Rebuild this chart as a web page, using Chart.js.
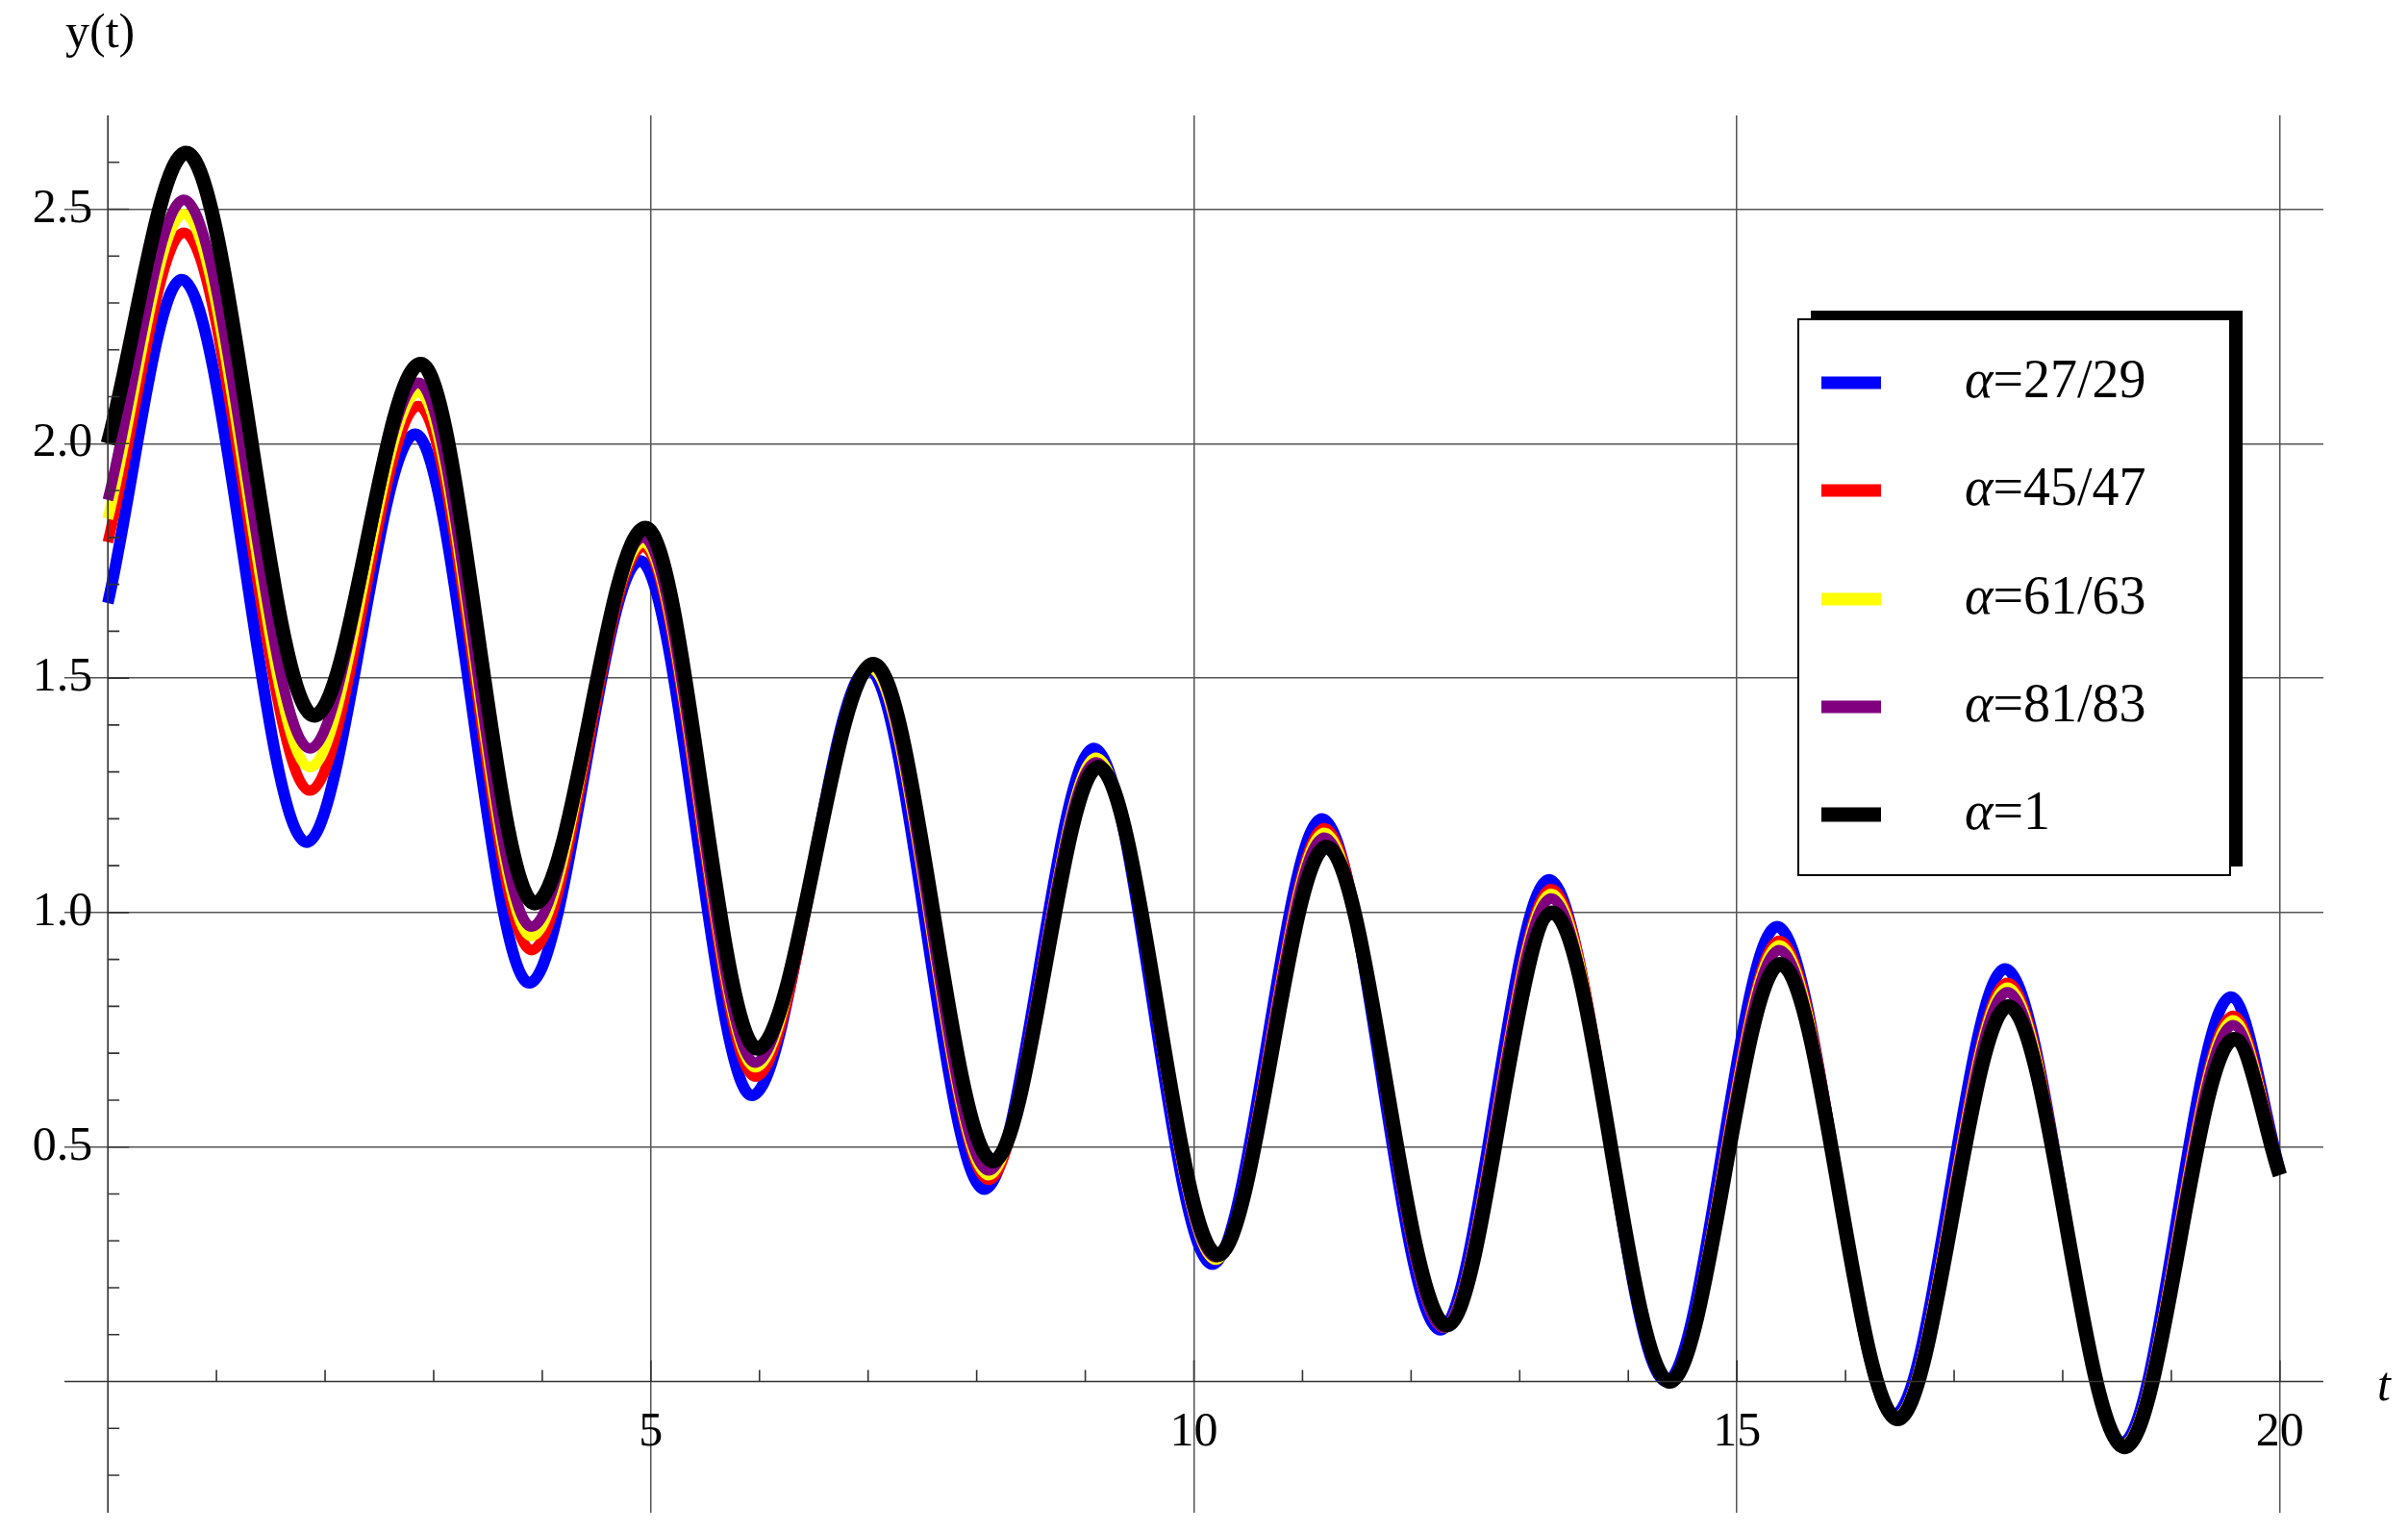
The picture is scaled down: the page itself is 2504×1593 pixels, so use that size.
<!DOCTYPE html>
<html><head><meta charset="utf-8">
<script src="https://cdn.jsdelivr.net/npm/chart.js@4/dist/chart.umd.min.js"></script>
<style>html,body{margin:0;padding:0;background:#fff}canvas{display:block}</style>
</head><body>
<canvas id="c" width="2504" height="1593"></canvas>
<script>
const seriesNames = ['α=27/29','α=45/47','α=61/63','α=81/83','α=1'];
const seriesColors = ['#0000ff','#ff0000','#ffff00','#800080','#000000'];
const tBlue  = [0,0.68,1.83,2.83,3.88,4.9,5.93,7.0,8.07,9.08,10.17,11.18,12.27,13.27,14.35,15.37,16.45,17.47,18.55,19.55,20];
const tMid   = [0,0.7,1.86,2.86,3.9,4.93,5.96,7.03,8.11,9.1,10.2,11.2,12.3,13.29,14.37,15.39,16.47,17.49,18.56,19.57,20];
const tBlack = [0,0.72,1.9,2.88,3.93,4.95,5.98,7.05,8.15,9.12,10.22,11.22,12.33,13.3,14.38,15.4,16.48,17.5,18.57,19.58,20];
const yBlue   = [1.66,2.35,1.15,2.02,0.85,1.75,0.61,1.52,0.41,1.35,0.25,1.20,0.11,1.07,0.00,0.97,-0.07,0.88,-0.13,0.82,0.45];
const yRed    = [1.79,2.45,1.26,2.08,0.92,1.78,0.65,1.52,0.43,1.33,0.26,1.18,0.115,1.05,0.0,0.94,-0.075,0.85,-0.135,0.78,0.45];
const yYellow = [1.84,2.49,1.31,2.11,0.95,1.79,0.67,1.52,0.44,1.33,0.26,1.17,0.115,1.04,0.0,0.93,-0.075,0.84,-0.135,0.77,0.445];
const yPurple = [1.88,2.52,1.35,2.13,0.97,1.80,0.68,1.53,0.45,1.32,0.265,1.16,0.115,1.03,0.0,0.92,-0.078,0.83,-0.138,0.76,0.445];
const yBlack  = [2.0,2.62,1.42,2.17,1.02,1.82,0.71,1.53,0.47,1.31,0.27,1.14,0.12,1.00,0.00,0.89,-0.08,0.80,-0.14,0.73,0.44];
const xTickLabels = [5,10,15,20];
const yTickLabels = [0.5,1.0,1.5,2.0,2.5];

const tSets = [tBlue,tMid,tMid,tMid,tBlack];
const ySets = [yBlue,yRed,yYellow,yPurple,yBlack];
const widths = [12,11,11,11,15];
const datasets = ySets.map((ys,i)=>({
  label: seriesNames[i],
  data: ys.map((y,j)=>({x:tSets[i][j], y})),
  borderColor: seriesColors[i], borderWidth: widths[i],
  pointRadius:0, cubicInterpolationMode:'monotone', fill:false, order:5-i
}));

const serif = '"Liberation Serif","DejaVu Serif",serif';
const deco = {
  id:'deco',
  afterDatasetsDraw(chart){
    const ctx=chart.ctx, xs=chart.scales.x, ys=chart.scales.y, a=chart.chartArea;
    const x0=xs.getPixelForValue(0), y0=ys.getPixelForValue(0);
    ctx.save();
    ctx.strokeStyle='#333'; ctx.lineWidth=1.6; ctx.setLineDash([]);
    ctx.beginPath(); ctx.moveTo(a.left,y0); ctx.lineTo(a.right,y0);
    ctx.moveTo(x0,a.top); ctx.lineTo(x0,a.bottom); ctx.stroke();
    ctx.beginPath();
    for(let t=1;t<=20;t++){const p=xs.getPixelForValue(t); const L=(t%5===0)?22:12; ctx.moveTo(p,y0); ctx.lineTo(p,y0-L);}
    for(let k=-2;k<=26;k++){ if(k===0) continue; const p=ys.getPixelForValue(k/10); const L=(k%5===0)?22:12; ctx.moveTo(x0,p); ctx.lineTo(x0+L,p);}
    ctx.stroke();
    ctx.fillStyle='#000'; ctx.font='50px '+serif;
    ctx.textAlign='center'; ctx.textBaseline='top';
    xTickLabels.forEach(v=>ctx.fillText(String(v), xs.getPixelForValue(v), y0+28));
    ctx.textAlign='right'; ctx.textBaseline='middle';
    yTickLabels.forEach(v=>ctx.fillText(v.toFixed(1), x0-16, ys.getPixelForValue(v)));
    ctx.textAlign='left'; ctx.textBaseline='middle';
    ctx.fillText('y(t)', 68, 36);
    ctx.font='italic 50px '+serif;
    ctx.fillText('t', 2472, y0+6);
    // legend
    const L0=1870, T0=332, W=449, H=578, off=13;
    ctx.fillStyle='#000'; ctx.fillRect(L0+off, T0-off+4, W, H);
    ctx.fillStyle='#fff'; ctx.fillRect(L0, T0, W, H);
    ctx.strokeStyle='#000'; ctx.lineWidth=2; ctx.strokeRect(L0, T0, W, H);
    const rows=[398,510,623,735,847];
    seriesNames.forEach((n,i)=>{
      ctx.strokeStyle=seriesColors[i]; ctx.lineWidth=(i===4)?15:13;
      ctx.beginPath(); ctx.moveTo(1894,rows[i]); ctx.lineTo(1956,rows[i]); ctx.stroke();
      ctx.fillStyle='#000'; ctx.font='56px '+serif; ctx.textAlign='left';
      ctx.font='italic 56px '+serif; ctx.fillText('α', 2043, rows[i]);
      const w=ctx.measureText('α').width;
      ctx.font='56px '+serif; ctx.fillText(n.slice(1), 2043+w, rows[i]);
    });
    ctx.restore();
  }
};

new Chart(document.getElementById('c'), {
  type:'line',
  data:{datasets},
  options:{
    responsive:false, devicePixelRatio:1, animation:false,
    layout:{padding:{left:67, right:88, top:120, bottom:20}},
    plugins:{legend:{display:false}, tooltip:{enabled:false}},
    scales:{
      x:{type:'linear', min:-0.4, max:20.4, afterBuildTicks:s=>{s.ticks=xTickLabels.map(v=>({value:v}));},
        ticks:{display:false}, border:{display:false},
        grid:{color:'#555', lineWidth:1.5, drawTicks:false, tickBorderDash:[], borderDash:[18,12]}},
      y:{type:'linear', min:-0.28, max:2.7, afterBuildTicks:s=>{s.ticks=yTickLabels.map(v=>({value:v}));},
        ticks:{display:false}, border:{display:false},
        grid:{color:'#555', lineWidth:1.5, drawTicks:false}}
    }
  },
  plugins:[deco]
});
// dashed grid (Chart.js v4 uses border.dash for axis; grid dash via scriptable option)
</script>
</body></html>
